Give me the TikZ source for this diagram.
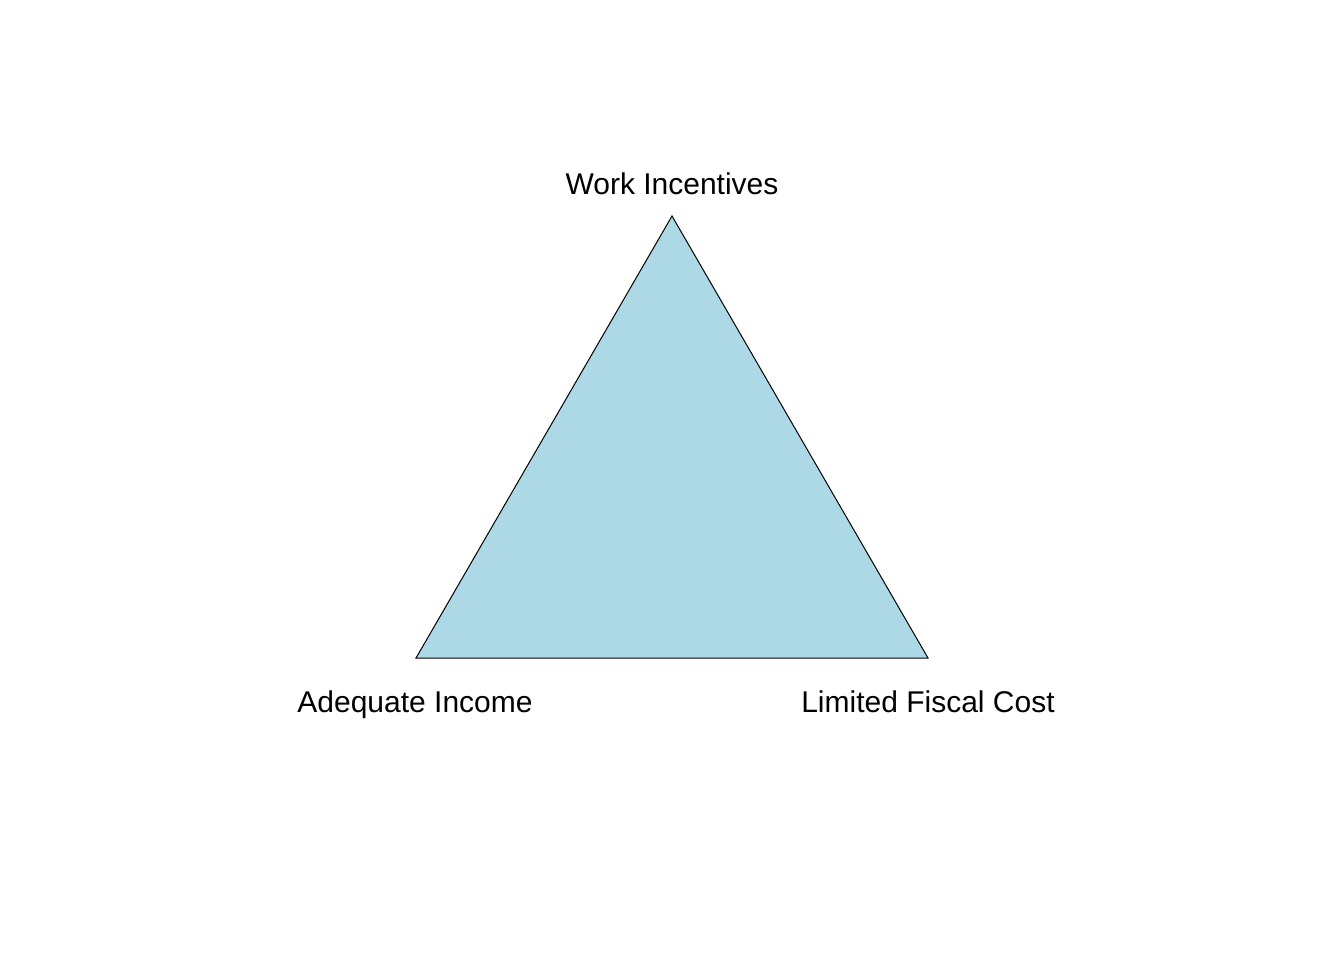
\documentclass[tikz,border=0pt]{standalone}
\usepackage{fontspec}
\setmainfont{Liberation Sans}
\definecolor{lightbluefill}{HTML}{ADD8E6}
\begin{document}
\begin{tikzpicture}[x=1pt,y=-1pt,
  cornerlabel/.style={font=\fontsize{30}{33}\selectfont, inner sep=0pt, anchor=base}]
  \useasboundingbox (0,0) rectangle (1344,960);
  % triangle corners
  \coordinate (top) at (672,216);
  \coordinate (left) at (416,658);
  \coordinate (right) at (928,658);
  \filldraw[fill=lightbluefill, draw=black, line width=1pt, line join=miter]
    (top) -- (left) -- (right) -- cycle;
  % corner labels
  \node[cornerlabel] (work) at (672,195) {Work Incentives};
  \node[cornerlabel] (income) at (415,712) {Adequate Income};
  \node[cornerlabel] (fiscal) at (928,712) {Limited Fiscal Cost};
\end{tikzpicture}
\end{document}
